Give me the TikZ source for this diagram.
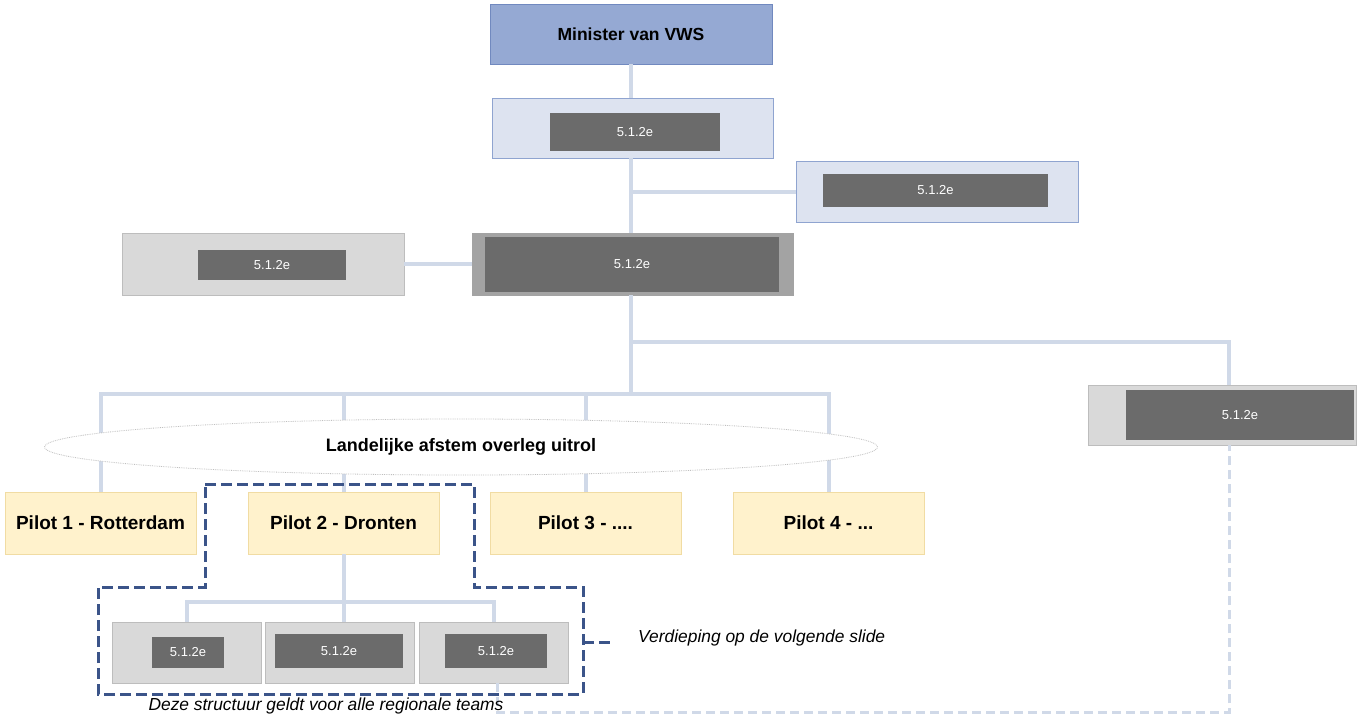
\documentclass[tikz,border=0pt]{standalone}
\usepackage{fontspec}
\setmainfont{Liberation Sans}
\usetikzlibrary{shapes.geometric,calc}
\definecolor{minfill}{HTML}{95A9D3}
\definecolor{minborder}{HTML}{7189BF}
\definecolor{lbfill}{HTML}{DDE3F0}
\definecolor{lbborder}{HTML}{8FA4D0}
\definecolor{darkbox}{HTML}{6B6B6B}
\definecolor{grayfill}{HTML}{D9D9D9}
\definecolor{grayborder}{HTML}{BDBDBD}
\definecolor{midgray}{HTML}{A3A3A3}
\definecolor{pilotfill}{HTML}{FFF2CC}
\definecolor{pilotborder}{HTML}{F1DCA3}
\definecolor{connc}{HTML}{D0D9E8}
\definecolor{dashblue}{HTML}{3B5489}
\tikzset{
  box/.style={rectangle, inner sep=0pt, outer sep=0pt, line width=1pt},
  minbox/.style={box, fill=minfill, draw=minborder, font=\bfseries\fontsize{17.5}{20}\selectfont},
  bluebox/.style={box, fill=lbfill, draw=lbborder},
  graybox/.style={box, fill=grayfill, draw=grayborder},
  midbox/.style={box, fill=midgray, draw=midgray},
  redact/.style={box, fill=darkbox, draw=none, text=white, font=\fontsize{13}{15}\selectfont},
  pilotbox/.style={box, fill=pilotfill, draw=pilotborder, font=\bfseries\fontsize{19}{22}\selectfont},
  conn/.style={draw=connc, line width=4pt},
  lightdash/.style={draw=connc, line width=3pt, dash pattern=on 9pt off 5pt},
  outline/.style={draw=dashblue, line width=3pt, dash pattern=on 11pt off 5pt},
  note/.style={font=\itshape\fontsize{17.4}{20}\selectfont, inner sep=0pt},
}
\begin{document}
\begin{tikzpicture}[x=1pt,y=-1pt]
\fill[white] (0,0) rectangle (1368,716);
\useasboundingbox (0,0) rectangle (1368,716);

% nodes
\node[minbox, minimum width=282pt, minimum height=60pt] (min) at (631,34) {Minister van VWS};
\node[bluebox, minimum width=281pt, minimum height=60pt] (vb1) at (632.5,128) {};
\node[bluebox, minimum width=282pt, minimum height=61pt] (vb2) at (937,191.5) {};
\node[midbox, minimum width=321pt, minimum height=62pt] (c1) at (632.5,264) {};
\node[graybox, minimum width=282pt, minimum height=62pt] (l1) at (263,264) {};
\node[graybox, minimum width=268pt, minimum height=60pt] (r1) at (1222,415) {};

\node[pilotbox, minimum width=191pt, minimum height=62pt] (p1) at (100.5,523) {Pilot 1 - Rotterdam};
\node[pilotbox, minimum width=191pt, minimum height=62pt] (p2) at (343.5,523) {Pilot 2 - Dronten};
\node[pilotbox, minimum width=191pt, minimum height=62pt] (p3) at (585.5,523) {Pilot 3 - ....};
\node[pilotbox, minimum width=191pt, minimum height=62pt] (p4) at (828.5,523) {Pilot 4 - ...};

\node[graybox, minimum width=149pt, minimum height=61pt] (ra) at (186.5,652.5) {};
\node[graybox, minimum width=149pt, minimum height=61pt] (rb) at (339.5,652.5) {};
\node[graybox, minimum width=149pt, minimum height=61pt] (rc) at (493.5,652.5) {};

% connectors
\coordinate (bus) at (631,394);
\coordinate (rbus) at (343,602);
\coordinate (br) at (631,342);
\coordinate (rdrop) at (1229,342);
\coordinate (dl) at (497,712);
\draw[conn] (min.south) -- (min.south |- vb1.north);
\draw[conn] (vb1.south -| min.south) -- (min.south |- c1.north);
\draw[conn] (vb2.west) -- (vb2.west -| min.south);
\draw[conn] (l1.east) -- (c1.west);
\draw[conn] (c1.south -| bus) -- (bus);
\draw[conn] (br) -- (rdrop) -- (rdrop |- r1.north);
\draw[conn] (p1.north) -- (p1.north |- bus) -- (p4.north |- bus) -- (p4.north);
\draw[conn] (p2.north) -- (p2.north |- bus);
\draw[conn] (p3.north) -- (p3.north |- bus);
\draw[conn] (p2.south) -- (p2.south |- rb.north);
\draw[conn] (ra.north) -- (ra.north |- rbus) -- (rc.north |- rbus) -- (rc.north);
\draw[lightdash] (rc.south -| dl) -- (dl) -| (rdrop |- r1.south);

% ellipse over the bus drops
\node[ellipse, fill=white, draw=black!25, densely dotted, line width=0.8pt, minimum width=833pt, minimum height=56pt, inner sep=0pt, font=\bfseries\fontsize{18}{21}\selectfont] (ell) at (461,447) {Landelijke afstem overleg uitrol};

% redacted inner boxes
\node[redact, minimum width=170pt, minimum height=38pt] (vb1t) at (635,132) {5.1.2e};
\node[redact, minimum width=225pt, minimum height=33pt] (vb2t) at (935.5,190.5) {5.1.2e};
\node[redact, minimum width=294pt, minimum height=55pt] (c1t) at (632,264.5) {5.1.2e};
\node[redact, minimum width=148pt, minimum height=30pt] (l1t) at (272,265) {5.1.2e};
\node[redact, minimum width=228pt, minimum height=50pt] (r1t) at (1240,415) {5.1.2e};
\node[redact, minimum width=72pt, minimum height=31pt] (rat) at (188,652.5) {5.1.2e};
\node[redact, minimum width=128pt, minimum height=34pt] (rbt) at (339,651) {5.1.2e};
\node[redact, minimum width=102pt, minimum height=34pt] (rct) at (496,651) {5.1.2e};

% dashed outline
\draw[outline] (205,484) -- (474,484) -- (474,587) -- (583,587) -- (583,694) -- (98,694) -- (98,587) -- (205,587) -- cycle;
\node[note, anchor=west] (verd) at (638,638) {Verdieping op de volgende slide};
\coordinate (od) at (583,642);
\draw[outline] (od) -- ++(29,0);
\node[note] (deze) at (326,706) {Deze structuur geldt voor alle regionale teams};
\end{tikzpicture}
\end{document}
